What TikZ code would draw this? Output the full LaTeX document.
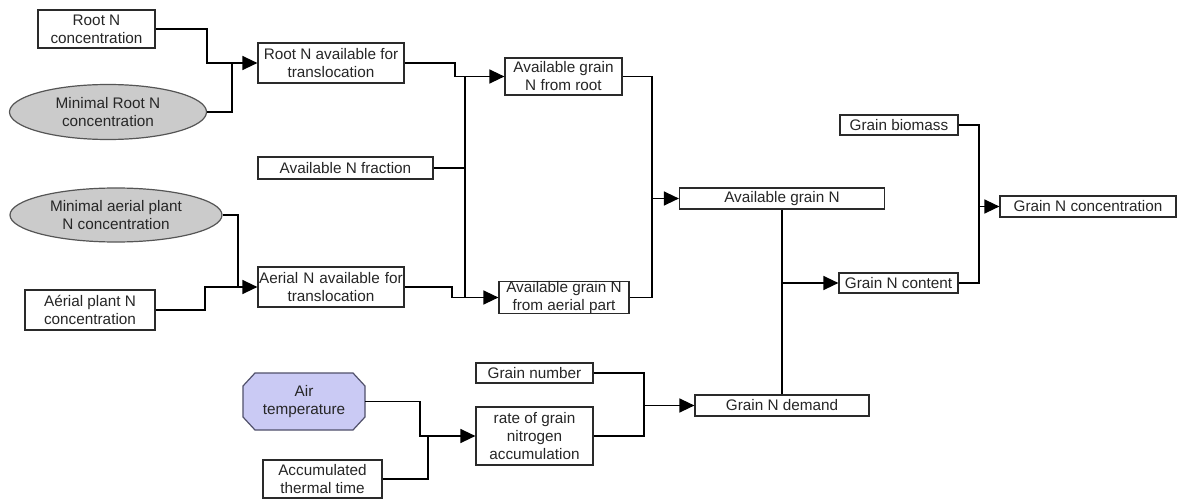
\documentclass[tikz,border=0pt]{standalone}
\usepackage{fontspec}
\setmainfont{Liberation Sans}
\usetikzlibrary{arrows.meta,shapes.geometric}
\definecolor{txt}{HTML}{262626}
\definecolor{edge}{HTML}{2A2A2A}
\definecolor{ellfill}{HTML}{CBCBCB}
\definecolor{octfill}{HTML}{CACAF4}
\definecolor{octedge}{HTML}{50506A}
\begin{document}
\begin{tikzpicture}[x=1pt,y=-1pt,
  every node/.style={font=\fontsize{15.3}{18}\selectfont, text=txt, align=center, inner sep=0pt},
  box/.style={draw=edge, line width=1.2pt, fill=white, rectangle},
  ell/.style={draw=edge!80, line width=1.2pt, fill=ellfill, ellipse},
  octline/.style={draw=octedge, line width=1.2pt, fill=octfill},
  wire/.style={draw=black, line width=1.4pt},
  arr/.style={wire, -{Triangle[length=15pt,width=14pt]}}]
\useasboundingbox (0,0) rectangle (1184,500);
\fill[white] (0,0) rectangle (1184,500);

% octagon outline of the Air temperature node
\path[octline] (255,373) -- (353,373) -- (365,386) -- (365,417) -- (353,430)
  -- (255,430) -- (243,417) -- (243,386) -- cycle;

% nodes
\node[box, minimum width=117pt, minimum height=38pt] (rootconc) at (96.5,29) {Root N\\concentration};
\node[ell, minimum width=197pt, minimum height=55pt] (minroot) at (108,112) {Minimal Root N\\concentration};
\node[box, minimum width=146pt, minimum height=40pt] (rootavail) at (331,63) {Root N available for\\translocation};
\node[box, minimum width=175pt, minimum height=22pt] (nfrac) at (345.5,168) {Available N fraction};
\node[ell, minimum width=212pt, minimum height=54pt] (minaer) at (116,215) {Minimal aerial plant\\N concentration};
\node[box, minimum width=130pt, minimum height=40pt] (aerconc) at (90,310) {Aérial plant N\\concentration};
\node[box, minimum width=146pt, minimum height=40pt, text width=146pt] (aeravail) at (331,287) {Aerial N available for\\translocation};
\node[box, minimum width=117pt, minimum height=37pt] (grainroot) at (563.5,76.5) {Available grain\\N from root};
\node[box, minimum width=130pt, minimum height=32pt] (grainaer) at (564,297.5) {Available grain N\\from aerial part};
\node[box, minimum width=205pt, minimum height=21pt] (availN) at (782,198.5) {Available grain N};
\node[box, minimum width=118pt, minimum height=20pt] (biomass) at (899,125) {Grain biomass};
\node[box, minimum width=176pt, minimum height=21pt] (grainconc) at (1088,206.5) {Grain N concentration};
\node[box, minimum width=119pt, minimum height=20pt] (content) at (898.5,283) {Grain N content};
\node[minimum width=122pt, minimum height=57pt] (airtemp) at (304,401.5) {Air\\temperature};
\node[box, minimum width=119pt, minimum height=38pt] (accum) at (322.5,479) {Accumulated\\thermal time};
\node[box, minimum width=117pt, minimum height=20pt] (grainnum) at (534.5,373) {Grain number};
\node[box, minimum width=117pt, minimum height=58pt] (rate) at (534.5,436) {rate of grain\\nitrogen\\accumulation};
\node[box, minimum width=174pt, minimum height=21pt] (demand) at (782,405.5) {Grain N demand};

% junction coordinates
\coordinate (j1) at (207,63);
\coordinate (j2) at (232,63);
\coordinate (j3) at (455,76.5);
\coordinate (bt) at (465,76.5);
\coordinate (bb) at (465,297.5);
\coordinate (j4) at (452,297.5);
\coordinate (j5) at (238,287);
\coordinate (j6) at (205,287);
\coordinate (j7) at (652,198.5);
\coordinate (j8) at (782,283);
\coordinate (j9) at (979,206.5);
\coordinate (j10) at (420,436);
\coordinate (j11) at (428,436);
\coordinate (j12) at (644,405.5);

% connectors
\draw[arr] (rootconc.east) -| (j1) -- (rootavail.west);
\draw[wire] (minroot.east) -| (j2);
\draw[arr] (rootavail.east) -| (j3) -- (grainroot.west);
\draw[wire] (bt) -- (bb);
\draw[wire] (nfrac.east) -- (nfrac.east -| bt);
\draw[arr] (aeravail.east) -| (j4) -- (grainaer.west);
\draw[arr] (aerconc.east) -| (j6) -- (aeravail.west);
\draw[wire] (minaer.east) -| (j5);
\draw[arr] (grainroot.east) -| (j7) -- (availN.west);
\draw[wire] (grainaer.east) -| (j7);
\draw[wire] (availN.south) -- (demand.north);
\draw[arr] (j8) -- (content.west);
\draw[arr] (biomass.east) -| (j9) -- (grainconc.west);
\draw[wire] (content.east) -| (j9);
\draw[arr] (airtemp.east) -| (j10) -- (rate.west);
\draw[wire] (accum.east) -| (j11);
\draw[arr] (grainnum.east) -| (j12) -- (demand.west);
\draw[wire] (rate.east) -| (j12);
\end{tikzpicture}
\end{document}
